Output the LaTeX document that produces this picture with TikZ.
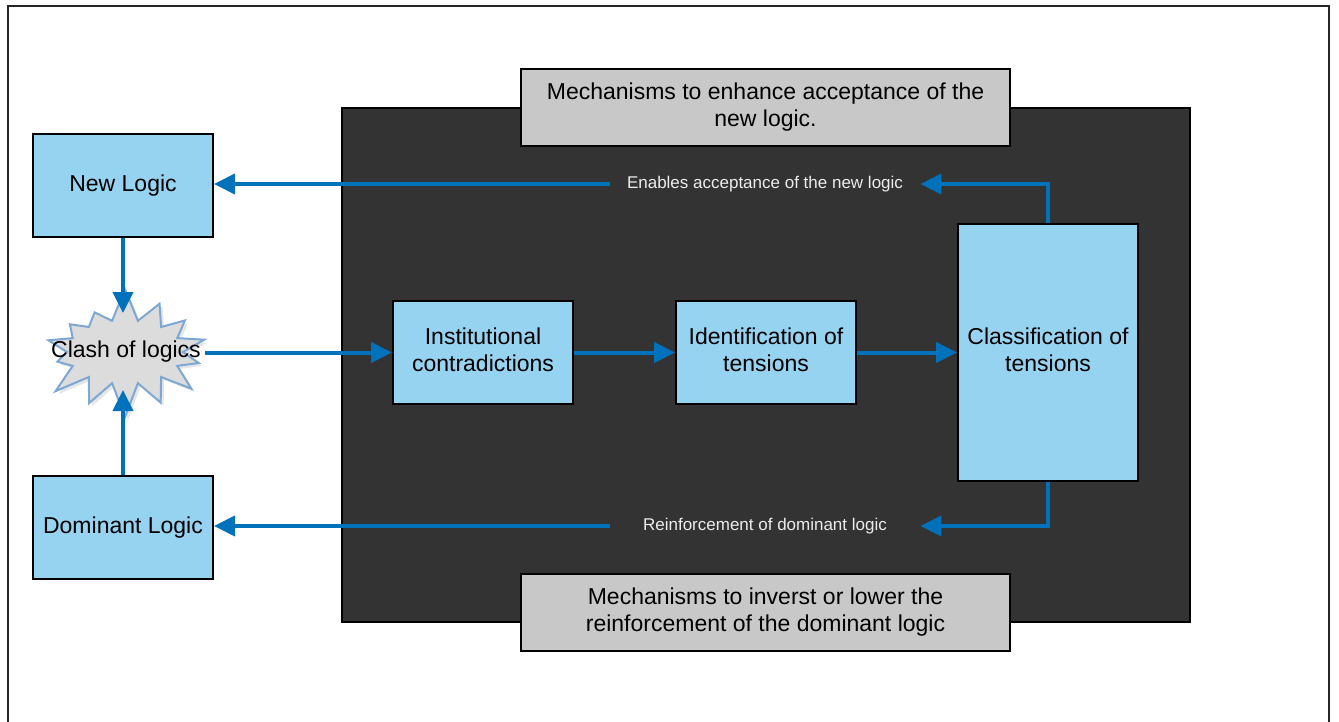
\documentclass[tikz,border=0pt]{standalone}
\usepackage{fontspec}
\setmainfont{Liberation Sans}
\usetikzlibrary{arrows.meta,shapes.symbols,shadows}
\definecolor{flowblue}{RGB}{0,114,188}
\definecolor{boxblue}{RGB}{149,211,240}
\definecolor{darkbg}{RGB}{51,51,51}
\definecolor{titlegray}{RGB}{200,200,200}
\definecolor{clashgray}{RGB}{220,220,220}
\definecolor{clashedge}{RGB}{125,168,212}
\definecolor{labeltext}{RGB}{236,236,236}
\begin{document}
\begin{tikzpicture}[x=0.5pt,y=-0.5pt,
  bluebox/.style={draw=black,line width=1pt,fill=boxblue,minimum width=90pt,minimum height=51.5pt,align=center,font=\fontsize{11.5}{13.5}\selectfont,inner sep=0pt},
  twoline/.style={text depth=3pt},
  titlebox/.style={draw=black,line width=1pt,fill=titlegray,minimum width=244.5pt,minimum height=38.5pt,align=center,font=\fontsize{11.5}{13.5}\selectfont,inner sep=0pt},
  panel/.style={draw=black,line width=1pt,fill=darkbg,minimum width=424pt,minimum height=257pt,inner sep=0pt},
  flowlabel/.style={text=labeltext,font=\fontsize{8.5}{10}\selectfont,minimum width=155pt,inner sep=0pt},
  flow/.style={draw=flowblue,line width=2pt,-{Triangle[length=10.5pt,width=10pt]}},
  clashshape/.style={starburst,starburst points=14,starburst point height=17pt,random starburst=7,draw=clashedge,line width=1pt,fill=clashgray,minimum width=92pt,minimum height=66pt,inner sep=0pt,drop shadow={opacity=0.2,shadow xshift=1.5pt,shadow yshift=-1.5pt}},
  frame/.style={draw=black!85,line width=1pt}
]
\useasboundingbox (0,0) rectangle (1339,722);
\draw[frame] (8,730) -- (8,6) -- (1329,6) -- (1329,730);

\node[panel] (panel) at (766,365) {};
\node[titlebox] (toptitle) at (765.5,107.5) {Mechanisms to enhance acceptance of the\\new logic.};
\node[titlebox] (bottitle) at (765.5,612.5) {Mechanisms to inverst or lower the\\reinforcement of the dominant logic};

\node[bluebox] (nl) at (123,185.5) {New Logic};
\node[bluebox] (dl) at (123,527.5) {Dominant Logic};
\node[bluebox,twoline] (inst) at (483,352.5) {Institutional\\contradictions};
\node[bluebox,twoline] (ident) at (766,352.5) {Identification of\\tensions};
\node[bluebox,twoline,minimum height=128.5pt] (class) at (1048,352.5) {Classification of\\tensions};

\node[clashshape] (clash) at (125,352) {};
\node[font=\fontsize{11.5}{13.5}\selectfont,inner sep=0pt] (clashtxt) at (126,352) {Clash of logics};
\coordinate (clashtop) at (123,313);
\coordinate (clashbot) at (123,390);
\coordinate (clashright) at (205,352.5);

\node[flowlabel] (lab1) at (765,184) {Enables acceptance of the new logic};
\node[flowlabel] (lab2) at (765,526) {Reinforcement of dominant logic};

\draw[flow] (nl.south) -- (clashtop);
\draw[flow] (dl.north) -- (clashbot);
\draw[flow] (clashright) -- (inst.west);
\draw[flow] (inst.east) -- (ident.west);
\draw[flow] (ident.east) -- (class.west);
\draw[flow] (class.north) |- (lab1.east);
\draw[flow] (lab1.west) -- (lab1.west -| nl.east);
\draw[flow] (class.south) |- (lab2.east);
\draw[flow] (lab2.west) -- (lab2.west -| dl.east);
\end{tikzpicture}
\end{document}
